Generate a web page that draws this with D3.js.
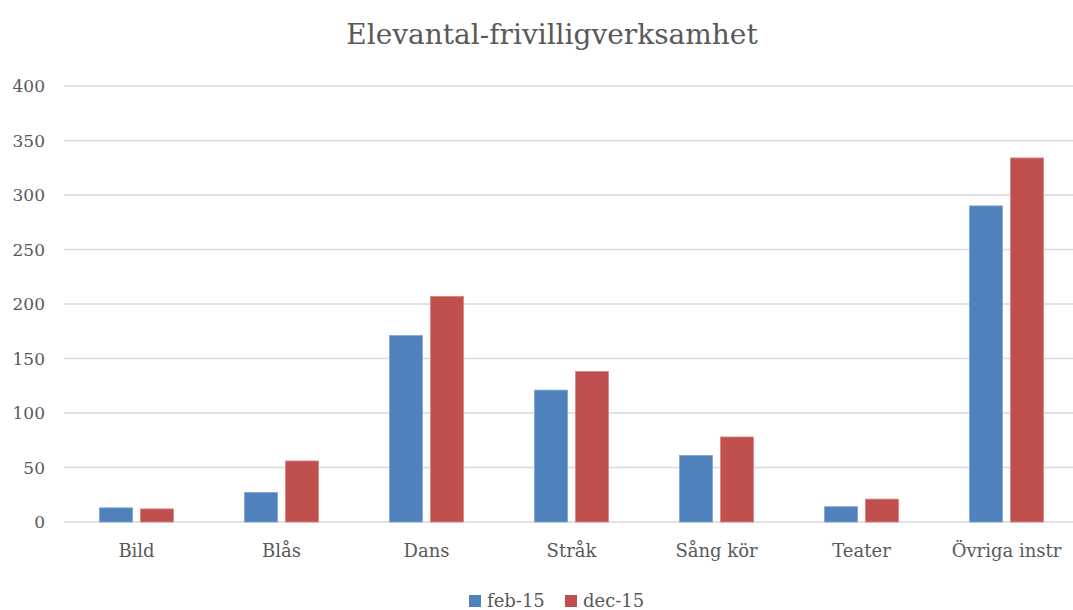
<!DOCTYPE html>
<html>
<head>
<meta charset="utf-8">
<script src="https://cdn.jsdelivr.net/npm/d3@7"></script>
<style>
	body { margin: 0; background: #fff; }
</style>
</head>
<body>
<svg width="1073" height="610"></svg>
<script>
const categories = ['Bild', 'Blås', 'Dans', 'Stråk', 'Sång kör', 'Teater', 'Övriga instr'];
const seriesNames = ['feb-15', 'dec-15'];
const feb15 = [13, 27, 171, 121, 61, 14, 290];
const dec15 = [12, 56, 207, 138, 78, 21, 334];
const yTicks = [0, 50, 100, 150, 200, 250, 300, 350, 400];
const colors = ['#4F81BD', '#C0504D'];
const strokes = ['#7ea3d3', '#d98380'];

const FONT = "'DejaVu Serif', serif";
const TEXT_COLOR = '#595959';

const svg = d3.select('svg');
const margin = { left: 64, right: 1079, top: 86, bottom: 522 };

const x = d3.scaleBand()
	.domain(categories)
	.range([margin.left, margin.right]);

const xInner = d3.scaleBand()
	.domain(seriesNames)
	.range([x.bandwidth() / 2 - 37, x.bandwidth() / 2 + 37])
	.paddingInner(0.195);

const y = d3.scaleLinear()
	.domain([0, 400])
	.range([margin.bottom, margin.top]);

// title
svg.append('text')
	.text('Elevantal-frivilligverksamhet')
	.attr('x', 552)
	.attr('y', 44)
	.attr('text-anchor', 'middle')
	.style('font-family', FONT)
	.style('fill', TEXT_COLOR)
	.style('font-size', '28px');

// grid
svg.append('g')
	.selectAll('line')
	.data(yTicks)
	.enter()
	.append('line')
	.attr('x1', margin.left)
	.attr('x2', margin.right)
	.attr('y1', (d) => y(d))
	.attr('y2', (d) => y(d))
	.attr('stroke', '#d9d9d9')
	.attr('stroke-width', 1.5);

// y axis labels
const yAxis = d3.axisLeft(y).tickValues(yTicks).tickSize(0).tickPadding(0);
svg.append('g')
	.attr('transform', 'translate(45, 0)')
	.call(yAxis)
	.call((g) => g.select('.domain').remove())
	.selectAll('text')
	.attr('dy', '0.35em')
	.style('font-family', FONT)
	.style('fill', TEXT_COLOR)
	.style('font-size', '17px');

// x axis labels
const xAxis = d3.axisBottom(x).tickSize(0).tickPadding(0);
svg.append('g')
	.attr('transform', `translate(0, ${margin.bottom + 35})`)
	.call(xAxis)
	.call((g) => g.select('.domain').remove())
	.selectAll('text')
	.attr('dy', 0)
	.style('font-family', FONT)
	.style('fill', TEXT_COLOR)
	.style('font-size', '18px');

// bars
const series = [feb15, dec15];
const groups = svg.selectAll('.series')
	.data(series)
	.enter()
	.append('g')
	.attr('class', 'series');

groups.each(function (vals, si) {
	d3.select(this).selectAll('rect')
		.data(vals)
		.enter()
		.append('rect')
		.attr('x', (d, i) => x(categories[i]) + xInner(seriesNames[si]))
		.attr('width', xInner.bandwidth())
		.attr('y', (d) => y(d))
		.attr('height', (d) => y(0) - y(d))
		.attr('fill', colors[si])
		.attr('stroke', strokes[si])
		.attr('stroke-width', 0.8);
});

// legend
const legendPos = [469, 565];
const legend = svg.selectAll('.legend')
	.data(seriesNames)
	.enter()
	.append('g')
	.attr('class', 'legend')
	.attr('transform', (d, i) => `translate(${legendPos[i]}, 595)`);

legend.append('rect')
	.attr('width', 12)
	.attr('height', 12)
	.attr('fill', (d, i) => colors[i]);

legend.append('text')
	.text((d) => d)
	.attr('x', 18)
	.attr('y', 12)
	.style('font-family', FONT)
	.style('fill', TEXT_COLOR)
	.style('font-size', '18px');
</script>
</body>
</html>
